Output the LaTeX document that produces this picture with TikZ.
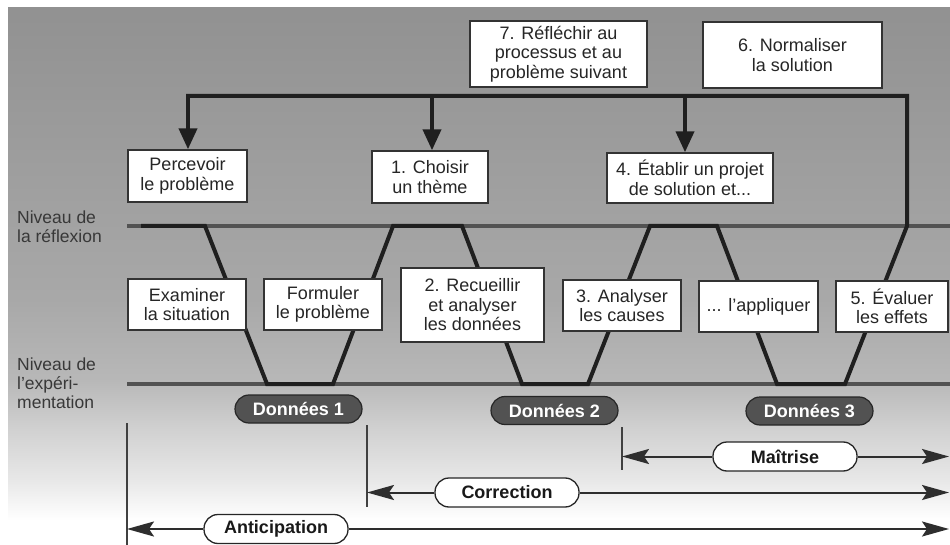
\documentclass[tikz,border=0pt]{standalone}
\usepackage{fontspec}
\setmainfont{Liberation Sans}
\usetikzlibrary{arrows.meta}

% tones of the panel, from the light foot to the darker head
\colorlet{fadeA}{white}
\colorlet{fadeB}{black!9}
\colorlet{fadeC}{black!18}
\colorlet{fadeD}{black!28}
\colorlet{fadeE}{black!34}
\colorlet{fadeF}{black!43}
\pgfdeclareverticalshading{panelfade}{100bp}{%
  color(0bp)=(fadeA); color(27.3bp)=(fadeA); color(31bp)=(fadeB);
  color(35.7bp)=(fadeC); color(40.4bp)=(fadeD); color(47.8bp)=(fadeE);
  color(75bp)=(fadeF); color(100bp)=(fadeF)}

\begin{document}
\begin{tikzpicture}[x=1pt,y=-1pt,
  txt/.style={font=\fontsize{18}{19.5}\selectfont, text=black!85},
  side/.style={font=\fontsize{17.5}{19}\selectfont, text=black!78, align=left,
               inner sep=0pt, anchor=north west},
  box/.style={txt, draw=black!80, line width=1.4pt, fill=white, align=center,
              inner sep=0pt},
  datapill/.style={draw=black!85, line width=1.2pt, fill=black!68, text=white,
              font=\fontsize{18}{20}\selectfont\bfseries, inner sep=0pt,
              minimum width=127pt, minimum height=28pt, rounded corners=14pt},
  spanpill/.style={draw=black!85, line width=1.3pt, fill=white, text=black!90,
              font=\fontsize{18}{20}\selectfont\bfseries, inner sep=0pt,
              minimum width=144pt, minimum height=29pt, rounded corners=14pt},
  level/.style={draw=black!68, line width=4pt},
  vpath/.style={draw=black!88, line width=4pt, line join=miter, line cap=rect},
  downarrow/.style={vpath, line cap=butt, -{Triangle[width=18pt,length=21pt]}},
  span/.style={draw=black!82, line width=2pt,
               -{Stealth[length=27pt,width=15pt,inset=5pt]}},
  tick/.style={draw=black!75, line width=1.6pt}]

% page and shaded panel
\fill[white] (0,0) rectangle (950,545);
\useasboundingbox (0,0) rectangle (950,545);
\shade[shading=panelfade] (8,8) rectangle (950,545);

% the two levels
\coordinate (reflL) at (127,226);
\coordinate (reflR) at (950,226);
\coordinate (expL)  at (127,384);
\coordinate (expR)  at (950,384);
\draw[level] (reflL) -- (reflR);
\draw[level] (expL) -- (expR);

\node[side] (lblrefl) at (17,211) {Niveau de\\la réflexion};
\node[side] (lblexp)  at (17,358) {Niveau de\\l’expéri-\\mentation};

% path of the cycle between the two levels
\coordinate (v0)  at (143,226);
\coordinate (v1)  at (205,226);
\coordinate (v2)  at (267,384);
\coordinate (v3)  at (333,384);
\coordinate (v4)  at (393,226);
\coordinate (v5)  at (462,226);
\coordinate (v6)  at (522,384);
\coordinate (v7)  at (588,384);
\coordinate (v8)  at (650,226);
\coordinate (v9)  at (717,226);
\coordinate (v10) at (777,384);
\coordinate (v11) at (845,384);
\coordinate (v12) at (907,226);
\coordinate (k4)  at (907,96);
\coordinate (k3)  at (685,96);
\coordinate (k2)  at (432,96);
\coordinate (k1)  at (188,96);
\draw[vpath] (v0) -- (v1) -- (v2) -- (v3) -- (v4) -- (v5) -- (v6) -- (v7)
  -- (v8) -- (v9) -- (v10) -- (v11) -- (v12) -- (k4) -- (k1);

% upper boxes
\node[box, minimum width=177pt, minimum height=66pt] (b7) at (558.5,54)
  {7. Réfléchir au\\processus et au\\problème suivant};
\node[box, minimum width=179pt, minimum height=66pt] (b6) at (792.5,55)
  {6. Normaliser\\la solution};
\node[box, minimum width=119pt, minimum height=52pt] (bp) at (187.5,176)
  {Percevoir\\le problème};
\node[box, minimum width=116pt, minimum height=52pt] (b1) at (430,177)
  {1. Choisir\\un thème};
\node[box, minimum width=166pt, minimum height=50pt] (b4) at (690,178)
  {4. Établir un projet\\de solution et...};

\draw[downarrow] (k1) -- (k1 |- bp.north);
\draw[downarrow] (k2) -- (k2 |- b1.north);
\draw[downarrow] (k3) -- (k3 |- b4.north);

% lower boxes
\node[box, minimum width=118pt, minimum height=51pt] (be) at (187,304.5)
  {Examiner\\la situation};
\node[box, minimum width=118pt, minimum height=51pt] (bf) at (323,304.5)
  {Formuler\\le problème};
\node[box, minimum width=143pt, minimum height=74pt] (b2) at (472.5,305)
  {2. Recueillir\\et analyser\\les données};
\node[box, minimum width=118pt, minimum height=51pt] (b3) at (622,305.5)
  {3. Analyser\\les causes};
\node[box, minimum width=119pt, minimum height=51pt] (ba) at (758.5,306.5)
  {... l’appliquer};
\node[box, minimum width=112pt, minimum height=51pt] (b5) at (892,306.5)
  {5. Évaluer\\les effets};

% data collected at the experimentation level
\node[datapill] (d1) at (298.5,409) {Données 1};
\node[datapill] (d2) at (554.5,410.5) {Données 2};
\node[datapill] (d3) at (809.5,411) {Données 3};

% spans below
\coordinate (tA1) at (127,423);
\coordinate (tA2) at (127,545);
\coordinate (tC1) at (367,425);
\coordinate (tC2) at (367,507);
\coordinate (tM1) at (622,427);
\coordinate (tM2) at (622,470);
\draw[tick] (tA1) -- (tA2);
\draw[tick] (tC1) -- (tC2);
\draw[tick] (tM1) -- (tM2);

\node[spanpill] (mai) at (785,456.5) {Maîtrise};
\node[spanpill] (cor) at (507,492.5) {Correction};
\node[spanpill] (ant) at (276,529) {Anticipation};

\coordinate (mR) at (949,456.5);
\coordinate (cR) at (949,492.5);
\coordinate (aR) at (949,529);
\draw[span] (mai.west) -- (tM1 |- mai.west);
\draw[span] (mai.east) -- (mR);
\draw[span] (cor.west) -- (tC1 |- cor.west);
\draw[span] (cor.east) -- (cR);
\draw[span] (ant.west) -- (tA1 |- ant.west);
\draw[span] (ant.east) -- (aR);
\end{tikzpicture}
\end{document}
